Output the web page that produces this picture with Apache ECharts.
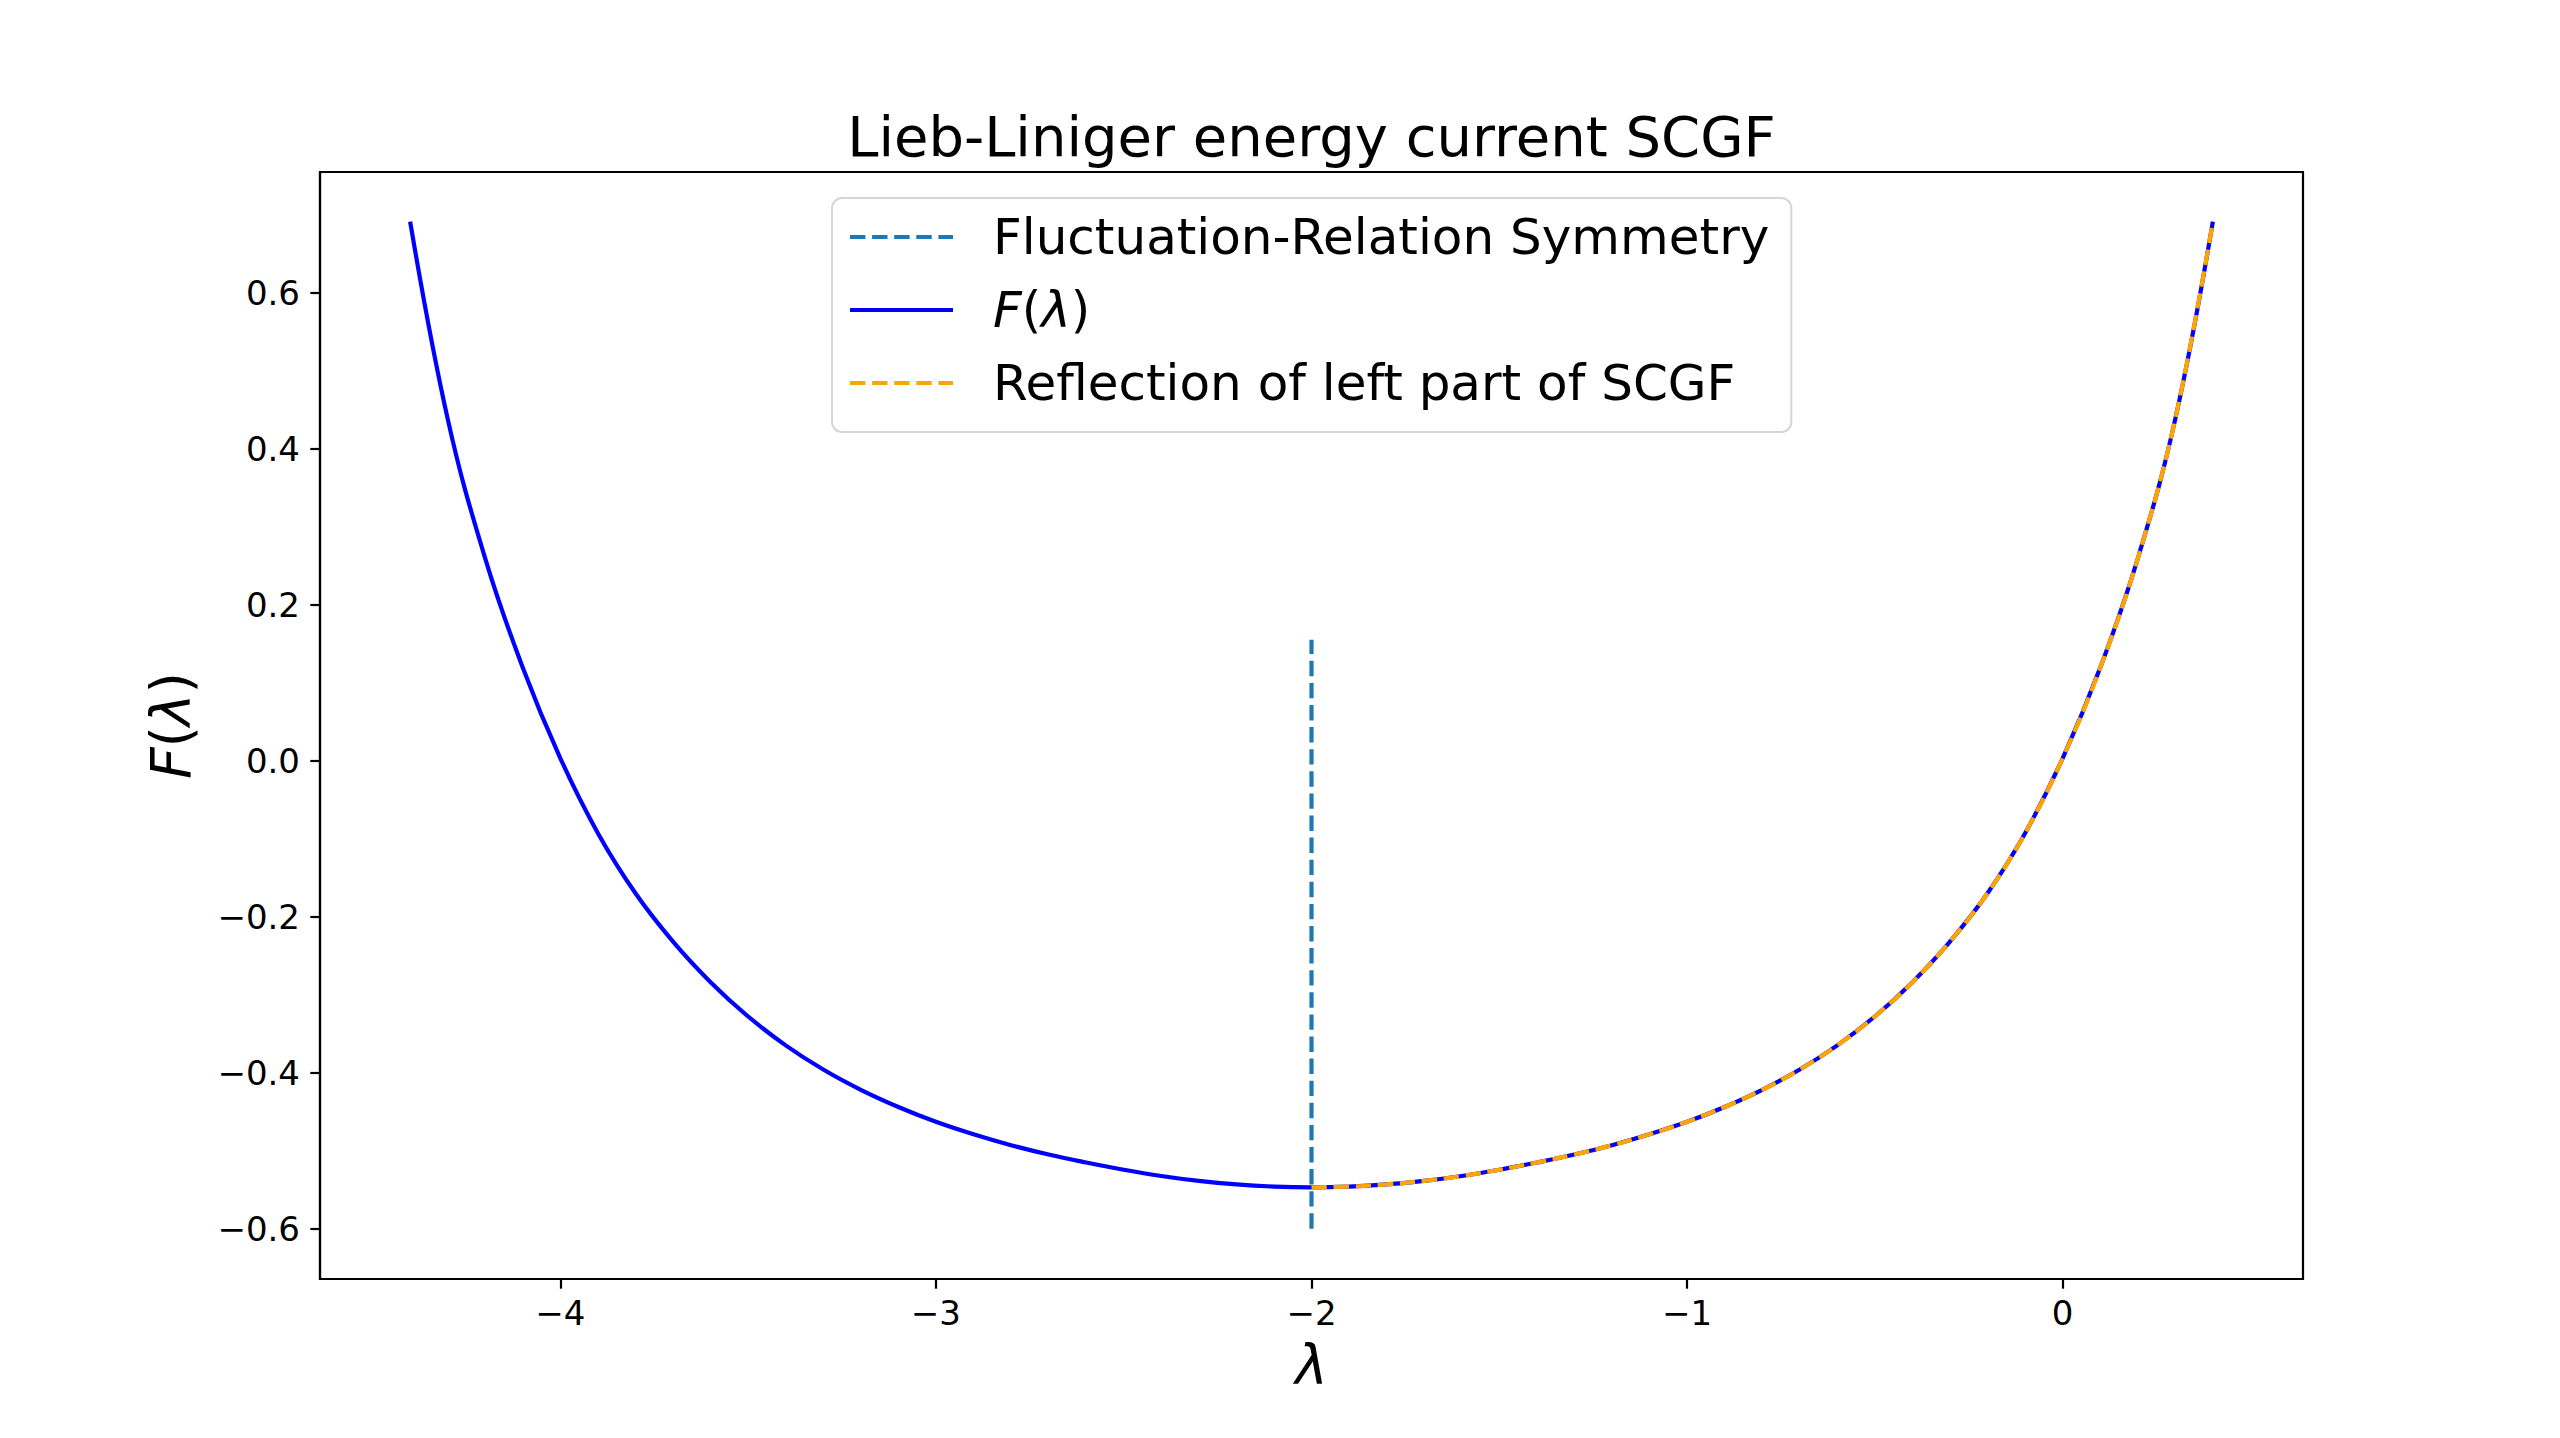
<!DOCTYPE html>
<html>
<head>
<meta charset="utf-8">
<script src="https://cdn.jsdelivr.net/npm/echarts@6/dist/echarts.min.js"></script>
<style>
html,body{margin:0;padding:0;background:#fff;}
#chart{width:2560px;height:1438px;}
</style>
</head>
<body>
<div id="chart"></div>
<script>
// ---- data ----
const lambdaValues = [
  -4.4, -4.3, -4.2, -4.1, -4.0, -3.9, -3.8, -3.7, -3.6, -3.5,
  -3.4, -3.3, -3.2, -3.1, -3.0, -2.9, -2.8, -2.7, -2.6, -2.5,
  -2.4, -2.3, -2.2, -2.1, -2.0, -1.9, -1.8, -1.7, -1.6, -1.5,
  -1.4, -1.3, -1.2, -1.1, -1.0, -0.9, -0.8, -0.7, -0.6, -0.5,
  -0.4, -0.3, -0.2, -0.1, 0.0, 0.1, 0.2, 0.3, 0.4
];
const fValues = [
  0.691, 0.438, 0.259, 0.119, 0.003, -0.093, -0.170, -0.232, -0.284, -0.328,
  -0.365, -0.396, -0.422, -0.444, -0.463, -0.479, -0.493, -0.505, -0.5152, -0.5245,
  -0.5325, -0.5388, -0.5433, -0.546, -0.547, -0.546, -0.5433, -0.5388, -0.5325, -0.5245,
  -0.5152, -0.505, -0.493, -0.479, -0.463, -0.444, -0.422, -0.396, -0.365, -0.328,
  -0.284, -0.232, -0.170, -0.093, 0.003, 0.119, 0.259, 0.438, 0.691
];
const symmetryX = [-2, -2];
const symmetryY = [-0.6, 0.155];
const xTickValues = [-4, -3, -2, -1, 0];
const yTickValues = [-0.6, -0.4, -0.2, 0.0, 0.2, 0.4, 0.6];
const seriesNames = ['Fluctuation-Relation Symmetry', 'F(λ)', 'Reflection of left part of SCGF'];
const titleText = 'Lieb-Liniger energy current SCGF';

// ---- build series data ----
const fData = lambdaValues.map((l, i) => [l, fValues[i]]);
const symData = symmetryX.map((x, i) => [x, symmetryY[i]]);
// reflection of the left part (lambda <= -2) about lambda = -2
const reflData = [];
lambdaValues.forEach((l, i) => { if (l <= -2) reflData.push([-4 - l, fValues[i]]); });
reflData.sort((a, b) => a[0] - b[0]);

const FONT = '"DejaVu Sans", "Liberation Sans", sans-serif';
const minus = s => String(s).replace('-', '\u2212');
const DASH = [15.4, 6.7];
const LW = 4.2;
const dashIcon = 'path://M0,0h15.4v4h-15.4z M22.1,0h15.4v4h-15.4z M44.2,0h15.4v4h-15.4z M66.3,0h15.4v4h-15.4z M88.4,0h14.6v4h-14.6z';
const solidIcon = 'path://M0,0h103v4h-103z';

const chart = echarts.init(document.getElementById('chart'), null, {renderer: 'svg'});
chart.setOption({
  backgroundColor: '#ffffff',
  animation: false,
  grid: {
    left: 320, top: 172, width: 1983, height: 1107,
    show: true, borderColor: '#000', borderWidth: 2.2, backgroundColor: 'transparent'
  },
  graphic: [{
    type: 'text', x: 1311.5, y: 164, z: 100,
    style: {
      text: titleText, align: 'center', verticalAlign: 'bottom',
      font: '56px ' + FONT, fill: '#000'
    }
  }],
  legend: {
    orient: 'vertical', left: 832, top: 198,
    data: [
      { name: seriesNames[0], icon: dashIcon },
      { name: seriesNames[1], icon: solidIcon },
      { name: seriesNames[2], icon: dashIcon }
    ],
    itemWidth: 103, itemHeight: 4, itemGap: 23,
    symbolKeepAspect: false,
    padding: [14, 22, 24, 18],
    borderColor: '#d6d6d6', borderWidth: 2, borderRadius: 10,
    backgroundColor: 'rgba(255,255,255,0.8)',
    selectedMode: false,
    formatter: name => name === 'F(λ)' ? '{i|F}({i|λ})' : name,
    textStyle: {
      fontSize: 50, fontFamily: FONT, color: '#000', padding: [0, 0, 0, 35],
      rich: { i: { fontSize: 50, fontFamily: FONT, fontStyle: 'italic', color: '#000' } }
    }
  },
  xAxis: {
    type: 'value', min: -4.64, max: 0.64,
    name: '{i|λ}', nameLocation: 'middle', nameGap: 58,
    nameTextStyle: { rich: { i: { fontSize: 55, fontFamily: FONT, fontStyle: 'italic', color: '#000' } } },
    axisLine: { show: true, onZero: false, lineStyle: { color: '#000', width: 2.2 } },
    axisTick: { show: true, length: 9.7, lineStyle: { color: '#000', width: 2.2 }, customValues: xTickValues },
    axisLabel: {
      customValues: xTickValues, margin: 17, fontSize: 34, fontFamily: FONT, color: '#000',
      formatter: v => minus(Math.round(v))
    },
    splitLine: { show: false }
  },
  yAxis: {
    type: 'value', min: -0.6645, max: 0.7545,
    name: '{i|F}({i|λ})', nameLocation: 'middle', nameGap: 122, nameRotate: 90,
    nameTextStyle: {
      fontSize: 55, fontFamily: FONT, color: '#000',
      rich: { i: { fontSize: 55, fontFamily: FONT, fontStyle: 'italic', color: '#000' } }
    },
    axisLine: { show: true, onZero: false, lineStyle: { color: '#000', width: 2.2 } },
    axisTick: { show: true, length: 9.7, lineStyle: { color: '#000', width: 2.2 }, customValues: yTickValues },
    axisLabel: {
      customValues: yTickValues, margin: 20, fontSize: 34, fontFamily: FONT, color: '#000',
      formatter: v => minus(Number(v).toFixed(1))
    },
    splitLine: { show: false }
  },
  series: [
    {
      name: seriesNames[0], type: 'line', data: symData, symbol: 'none',
      lineStyle: { color: '#1f77b4', width: LW, type: DASH },
      itemStyle: { color: '#1f77b4' }
    },
    {
      name: seriesNames[1], type: 'line', data: fData, symbol: 'none', smooth: 0.4,
      lineStyle: { color: '#0000ff', width: LW },
      itemStyle: { color: '#0000ff' }
    },
    {
      name: seriesNames[2], type: 'line', data: reflData, symbol: 'none', smooth: 0.4,
      lineStyle: { color: '#ffa500', width: LW, type: DASH },
      itemStyle: { color: '#ffa500' }
    }
  ]
});
</script>
</body>
</html>
